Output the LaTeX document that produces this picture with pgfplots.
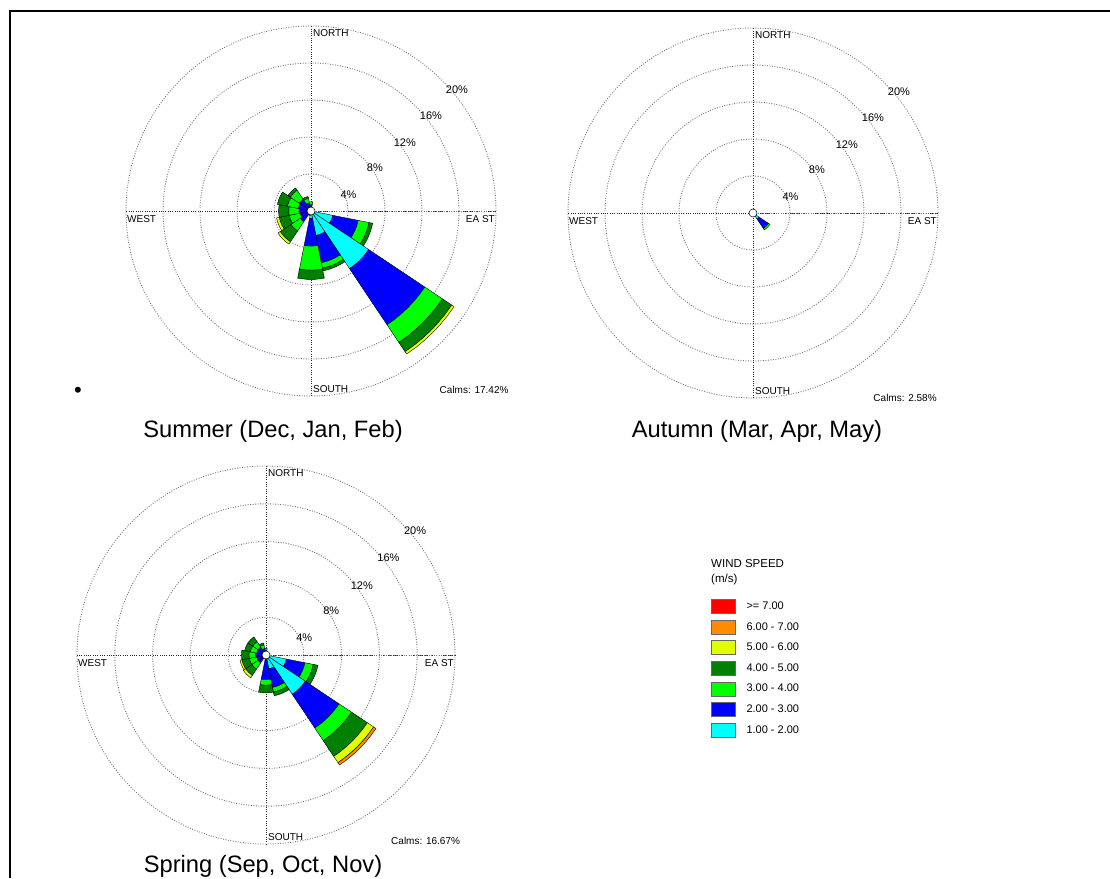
\documentclass[border=0pt]{standalone}
\usepackage{pgfplots}
\pgfplotsset{compat=1.18}
\usepgfplotslibrary{polar}
\usepackage{pgfplotstable}
\usepackage{fontspec}
\setmainfont{Liberation Sans}

\definecolor{wcyan}{HTML}{00FFFF}
\definecolor{wblue}{HTML}{0000FF}
\definecolor{wgreen}{HTML}{00FF00}
\definecolor{wdkgreen}{HTML}{007F00}
\definecolor{wyellow}{HTML}{E0FF00}
\definecolor{worange}{HTML}{FF8C00}
\definecolor{wred}{HTML}{FF0000}

% band widths in percent: c=1-2, b=2-3, g=3-4, d=4-5, y=5-6, o=6-7, r=>=7 m/s
\pgfplotstableread{
dir   c   b   g   d   y   o   r
0     0.2 0.5 0.3 0   0   0   0
112.5 2.4 2.8 1.2 0.4 0   0   0
135   7.5 7.3 2.3 1.2 0.3 0   0
157.5 2.7 3.0 0.6 0.3 0   0   0
180   0.8 3.0 2.6 1.0 0   0   0
202.5 0.2 0.3 0   0   0   0   0
225   0.2 1.2 1.2 1.4 0.3 0   0
247.5 0.2 1.0 1.2 1.1 0.3 0   0
270   0.2 1.1 1.1 1.1 0   0   0
292.5 0.2 1.2 1.2 1.1 0   0   0
315   0.2 1.3 1.2 0.3 0   0   0
337.5 0.2 0.7 0.5 0.2 0   0   0
}\summer

\pgfplotstableread{
dir   c   b   g   d   y   o   r
135   0.8 1.2 0.2 0   0   0   0
}\autumn

\pgfplotstableread{
dir   c   b   g   d   y   o   r
0     0.1 0.4 0.2 0   0   0   0
112.5 2.2 2.0 0.9 0.5 0   0   0
135   5.0 4.3 1.6 2.0 0.8 0.3 0
157.5 1.5 2.0 0.5 0.4 0   0   0
180   0.3 2.3 0.6 0.8 0   0   0
225   0.2 0.8 0.8 0.8 0.3 0   0
247.5 0.2 0.8 0.8 0.8 0.2 0   0
270   0.2 0.9 0.7 0.8 0   0   0
292.5 0.2 0.8 0.7 0.6 0   0   0
315   0.2 0.8 0.7 0.6 0   0   0
337.5 0.1 0.6 0.4 0.2 0   0   0
}\spring

\newcommand\band[4]{%
  \pgfmathsetmacro\aA{#1-11.25}%
  \pgfmathsetmacro\aB{#1-7.5}%
  \pgfmathsetmacro\aC{#1-3.75}%
  \pgfmathsetmacro\aD{#1}%
  \pgfmathsetmacro\aE{#1+3.75}%
  \pgfmathsetmacro\aF{#1+7.5}%
  \pgfmathsetmacro\aG{#1+11.25}%
  \edef\tmp{\noexpand\addplot[forget plot, fill=#4, draw=black, line width=0.4pt, line join=round] coordinates {(\aA,#2) (\aA,#3) (\aB,#3) (\aC,#3) (\aD,#3) (\aE,#3) (\aF,#3) (\aG,#3) (\aG,#2) (\aF,#2) (\aE,#2) (\aD,#2) (\aC,#2) (\aB,#2)} -- cycle;}%
  \tmp}

\newcommand\drawrose[1]{%
  \pgfplotstablegetrowsof{#1}%
  \pgfmathtruncatemacro\nrows{\pgfplotsretval-1}%
  \foreach \i in {0,...,\nrows}{%
    \pgfplotstablegetelem{\i}{dir}\of{#1}%
    \pgfmathsetmacro\thc{90-\pgfplotsretval}%
    \xdef\rcur{0}%
    \foreach \cn/\cl in {c/wcyan,b/wblue,g/wgreen,d/wdkgreen,y/wyellow,o/worange,r/wred}{%
      \pgfplotstablegetelem{\i}{\cn}\of{#1}%
      \let\vv\pgfplotsretval
      \pgfmathsetmacro\rnew{\rcur+\vv}%
      \ifdim\vv pt>0pt \band{\thc}{\rcur}{\rnew}{\cl}\fi
      \xdef\rcur{\rnew}%
    }%
  }%
  \addplot[forget plot, only marks, mark=*, mark size=4pt, mark options={fill=white, draw=black, line width=0.5pt}] coordinates {(0,0)};
}

\newcommand\roselabels[1]{%
  \node[anchor=north west, inner sep=0pt, xshift=2pt, yshift=-3pt] at (axis cs:90,20) {NORTH};
  \node[anchor=south west, inner sep=0pt, xshift=2pt, yshift=3pt] at (axis cs:270,20) {SOUTH};
  \node[anchor=north west, inner sep=0pt, xshift=1pt, yshift=-4pt] at (axis cs:180,20) {WEST};
  \node[anchor=north east, inner sep=0pt, xshift=-1pt, yshift=-4pt] at (axis cs:0,20) {EA ST};
  \node[font=\fontsize{11}{13}\selectfont] at (axis cs:23.7,4.43) {4\%};
  \node[font=\fontsize{11}{13}\selectfont] at (axis cs:33.9,8.32) {8\%};
  \node[font=\fontsize{11}{13}\selectfont] at (axis cs:36,12.54) {12\%};
  \node[font=\fontsize{11}{13}\selectfont] at (axis cs:38.4,16.54) {16\%};
  \node[font=\fontsize{11}{13}\selectfont] at (axis cs:39.8,20.54) {20\%};
  #1
}

\pgfplotsset{roseaxis/.style={
  scale only axis, anchor=center, clip=false,
  xmin=0, xmax=360, ymin=0, ymax=20,
  xtick={0,90,180,270}, ytick={4,8,12,16},
  xticklabels={}, yticklabels={},
  major tick length=0pt,
  xmajorgrids, ymajorgrids,
  x grid style={black!85, line width=0.7pt, dash pattern=on 0.7pt off 1.6pt},
  y grid style={black!55, line width=0.9pt, dash pattern=on 0.9pt off 1.6pt},
  axis line style={black!55, line width=0.9pt, dash pattern=on 0.9pt off 1.6pt},
  every node/.append style={font=\fontsize{10.4}{12}\selectfont, text=black!85},
}}

\begin{document}
\begin{tikzpicture}
\path[use as bounding box] (0pt,0pt) rectangle (1110pt,878pt);
\draw[line width=2.2pt] (10pt,0pt) -- (10pt,867pt) -- (1111pt,867pt);

% Summer
\begin{polaraxis}[roseaxis, at={(311pt,667pt)}, width=370pt, height=370pt]
\drawrose{\summer}
\roselabels{\node[font=\fontsize{10}{12}\selectfont] at (axis cs:312.3,26.2) {Calms: 17.42\%};}
\end{polaraxis}

% Autumn
\begin{polaraxis}[roseaxis, at={(753pt,665pt)}, width=370pt, height=370pt]
\drawrose{\autumn}
\roselabels{\node[font=\fontsize{10}{12}\selectfont] at (axis cs:309.4,25.9) {Calms: 2.58\%};}
\end{polaraxis}

% Spring
\begin{polaraxis}[roseaxis, at={(266pt,223pt)}, width=378pt, height=378pt,
  legend style={at={(axis description cs:1.677,0.648)}, anchor=north west, draw=none, fill=none,
    font=\fontsize{11}{13}\selectfont, row sep=6.2pt, inner sep=0pt, legend cell align=left,
    nodes={inner sep=1pt, text=black}},
  legend image code/.code={\draw[#1] (0pt,-7pt) rectangle (24pt,7pt); \path (34pt,0pt);}]
\drawrose{\spring}
\roselabels{\node[font=\fontsize{10}{12}\selectfont] at (axis cs:310.7,25.9) {Calms: 16.67\%};}
\addlegendimage{fill=wred, draw=black!60}\addlegendentry{>= 7.00}
\addlegendimage{fill=worange, draw=black!60}\addlegendentry{6.00 - 7.00}
\addlegendimage{fill=wyellow, draw=black!60}\addlegendentry{5.00 - 6.00}
\addlegendimage{fill=wdkgreen, draw=black!60}\addlegendentry{4.00 - 5.00}
\addlegendimage{fill=wgreen, draw=black!60}\addlegendentry{3.00 - 4.00}
\addlegendimage{fill=wblue, draw=black!60}\addlegendentry{2.00 - 3.00}
\addlegendimage{fill=wcyan, draw=black!60}\addlegendentry{1.00 - 2.00}
\end{polaraxis}

% titles and legend heading
\node[font=\fontsize{23.7}{28}\selectfont] at (273pt,447pt) {Summer (Dec, Jan, Feb)};
\node[font=\fontsize{23.7}{28}\selectfont] at (757pt,447pt) {Autumn (Mar, Apr, May)};
\node[font=\fontsize{23.7}{28}\selectfont] at (263pt,12pt) {Spring (Sep, Oct, Nov)};
\node[font=\fontsize{22}{24}\selectfont] at (78pt,486pt) {•};
\node[anchor=west, inner sep=0pt, font=\fontsize{11.5}{13}\selectfont] at (711pt,314pt) {WIND SPEED};
\node[anchor=west, inner sep=0pt, font=\fontsize{11.5}{13}\selectfont] at (711pt,298pt) {(m/s)};
\end{tikzpicture}
\end{document}
